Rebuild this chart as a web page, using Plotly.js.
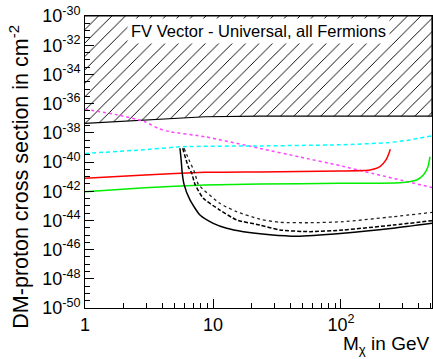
<!DOCTYPE html>
<html>
<head>
<meta charset="utf-8">
<script src="https://cdn.plot.ly/plotly-3.0.1.min.js"></script>
<style>html,body{margin:0;padding:0;background:#fff;}#chart{width:433px;height:359px;}</style>
</head>
<body>
<div id="chart"></div>
<script>
// ---- data (mass in GeV, cross section in cm^-2) ----
const excludedX = [1, 1.8, 2.94, 5.0, 8.66, 23.3, 514];
const excludedY = [4.47e-38, 5.9e-38, 7.59e-38, 1.05e-37, 1.26e-37, 1.38e-37, 1.38e-37];
const excludedTop = 1e-30;

const magentaX = [1, 1.81, 2.94, 3.72, 4.61, 8.66, 23.3, 47.8, 98.2, 178, 514];
const magentaY = [4.07e-37, 1.66e-37, 5.75e-38, 2.04e-38, 1.20e-38, 5.37e-39, 8.51e-40, 2.19e-40, 5.62e-41, 1.62e-41, 1.78e-42];

const cyanX = [1, 2.69, 5.83, 23.3, 98.2, 227.5, 346, 514];
const cyanY = [3.89e-40, 6.61e-40, 1.12e-39, 1.26e-39, 1.51e-39, 2.09e-39, 3.24e-39, 6.31e-39];

const redX = [1, 2.94, 8.66, 23.3, 98.2, 168.6, 201.6, 224.7, 237, 242.7];
const redY = [7.59e-42, 1.29e-41, 1.95e-41, 2.09e-41, 2.40e-41, 2.82e-41, 4.79e-41, 1.38e-40, 3.98e-40, 7.41e-40];

const greenX = [1, 2.94, 8.66, 23.3, 98.2, 289, 390, 440, 478, 496];
const greenY = [9.33e-43, 1.74e-42, 2.63e-42, 3.09e-42, 3.47e-42, 3.80e-42, 5.89e-42, 1.29e-41, 4.79e-41, 2.29e-40];

const solidX = [5.52, 5.64, 5.75, 5.94, 6.61, 7.91, 10.05, 12.8, 17.3, 27.9, 45, 103.7, 255, 514];
const solidY = [8.71e-40, 1.38e-40, 1.70e-41, 2.95e-42, 2.51e-43, 2.34e-44, 6.31e-45, 2.88e-45, 1.70e-45, 1.05e-45, 8.3e-46, 1.32e-45, 2.88e-45, 6.31e-45];

const dashedX = [5.80, 6.41, 6.82, 7.23, 8.40, 11.3, 15.3, 23.3, 33.4, 57.3, 103.7, 255, 514];
const dashedY = [8.71e-40, 4.79e-41, 1.70e-41, 2.95e-42, 3.24e-43, 5.13e-44, 1.07e-44, 4.79e-45, 2.19e-45, 1.70e-45, 2.19e-45, 4.79e-45, 9.55e-45];

const dottedX = [5.94, 6.5, 7.23, 7.68, 11.3, 15.3, 23.3, 33.4, 57.3, 103.7, 255, 514];
const dottedY = [8.71e-40, 1.38e-40, 1.70e-41, 2.95e-42, 1.48e-43, 3.98e-44, 1.20e-44, 7.41e-45, 6.92e-45, 8.13e-45, 1.78e-44, 3.55e-44];

const xTickVals = [1, 10, 100];
const xTickText = ['1', '10', '10<sup>2</sup>'];
const yTickExp = [-30, -32, -34, -36, -38, -40, -42, -44, -46, -48, -50];

const titleText = 'FV Vector - Universal, all Fermions';
const xTitle = 'M<sub>χ</sub> in GeV';
const yTitle = 'DM-proton cross section in cm<sup>-2</sup>';

// ---- build ----
const yTickVals = yTickExp.map(e => Math.pow(10, e));
const yTickText = yTickExp.map(e => '10<sup>' + e + '</sup>');
const yMinor = [];
for (let e = -50; e <= -30; e += 0.5) { if (Math.abs(e % 2) !== 0) yMinor.push(Math.pow(10, e)); }
const xMinor = [];
[1, 10, 100].forEach(d => { for (let m = 2; m <= 9; m++) { if (d * m <= 520) xMinor.push(d * m); } });

const hatchX = excludedX.concat([excludedX[excludedX.length - 1], excludedX[0]]);
const hatchY = excludedY.concat([excludedTop, excludedTop]);

const sm = 0.55;
const traces = [
  {x: hatchX, y: hatchY, mode: 'lines', fill: 'toself', fillcolor: 'rgba(0,0,0,0)',
   fillpattern: {shape: '/', fgcolor: 'black', bgcolor: 'white', size: 9.5, solidity: 0.1},
   line: {color: 'black', width: 1.2}, hoverinfo: 'skip'},
  {x: magentaX, y: magentaY, mode: 'lines', line: {color: '#ff44ff', width: 1.5, dash: 'dot', shape: 'spline', smoothing: sm}},
  {x: cyanX, y: cyanY, mode: 'lines', line: {color: '#00ffff', width: 1.5, dash: '4px,3px', shape: 'spline', smoothing: sm}},
  {x: redX, y: redY, mode: 'lines', line: {color: '#ff0000', width: 1.5, shape: 'spline', smoothing: sm}},
  {x: greenX, y: greenY, mode: 'lines', line: {color: '#00ee00', width: 1.5, shape: 'spline', smoothing: sm}},
  {x: dottedX, y: dottedY, mode: 'lines', line: {color: '#222', width: 1.3, dash: 'dot', shape: 'spline', smoothing: sm}},
  {x: dashedX, y: dashedY, mode: 'lines', line: {color: 'black', width: 1.5, dash: '4px,2px', shape: 'spline', smoothing: sm}},
  {x: solidX, y: solidY, mode: 'lines', line: {color: 'black', width: 1.5, shape: 'spline', smoothing: sm}}
];

const font = 'Liberation Sans, Arial, sans-serif';
const layout = {
  width: 433, height: 359,
  margin: {l: 85, r: 1, t: 16, b: 51},
  paper_bgcolor: 'white', plot_bgcolor: 'white',
  showlegend: false,
  font: {family: font, color: 'black', size: 18},
  xaxis: {
    type: 'log', range: [0, 2.711], showgrid: false, zeroline: false,
    showline: true, linecolor: 'black', linewidth: 1, mirror: true,
    ticks: 'inside', ticklen: 9, tickwidth: 1, tickcolor: 'black',
    tickmode: 'array', tickvals: xTickVals, ticktext: xTickText,
    tickfont: {family: font, size: 18},
    minor: {tickvals: xMinor, ticks: 'inside', ticklen: 5, tickcolor: 'black', tickwidth: 1, showgrid: false}
  },
  yaxis: {
    type: 'log', range: [-50, -30], showgrid: false, zeroline: false,
    showline: true, linecolor: 'black', linewidth: 1, mirror: true,
    ticks: 'inside', ticklen: 9, tickwidth: 1, tickcolor: 'black',
    tickmode: 'array', tickvals: yTickVals, ticktext: yTickText,
    tickfont: {family: font, size: 18},
    minor: {tickvals: yMinor, ticks: 'inside', ticklen: 5, tickcolor: 'black', tickwidth: 1, showgrid: false}
  },
  annotations: [
    {text: titleText, xref: 'paper', yref: 'paper', x: 0.5, y: 0.95, xanchor: 'center', yanchor: 'middle',
     showarrow: false, bgcolor: 'white', borderpad: 3, font: {family: font, size: 16.5, color: 'black'}},
    {text: xTitle, xref: 'paper', yref: 'paper', x: 1, y: -0.128, xanchor: 'right', yanchor: 'middle',
     showarrow: false, font: {family: font, size: 19, color: 'black'}},
    {text: yTitle, xref: 'paper', yref: 'paper', x: -0.19, y: 0.45, xanchor: 'center', yanchor: 'middle',
     textangle: -90, showarrow: false, font: {family: font, size: 21.5, color: 'black'}}
  ]
};

Plotly.newPlot('chart', traces, layout, {staticPlot: true, displayModeBar: false});
</script>
</body>
</html>
